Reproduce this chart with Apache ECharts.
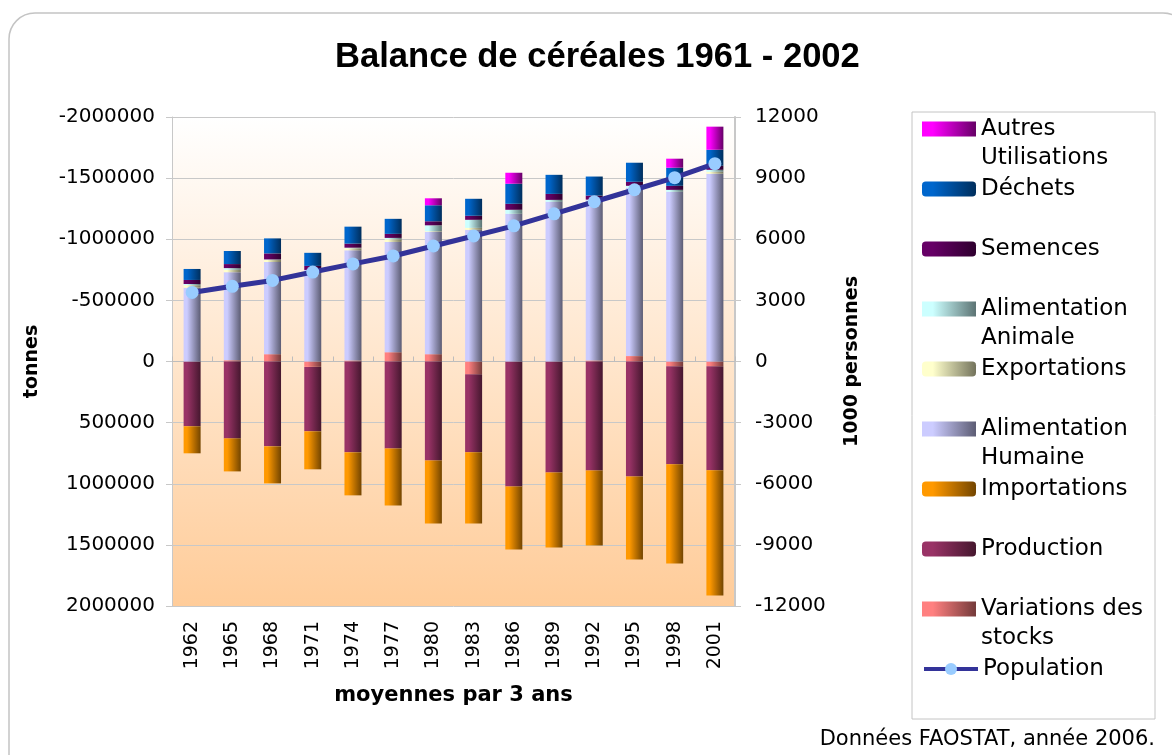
<!DOCTYPE html>
<html>
<head>
<meta charset="utf-8">
<script src="https://cdn.jsdelivr.net/npm/echarts@6/dist/echarts.min.js"></script>
<style>
html, body { margin: 0; padding: 0; background: #fff; }
#chart { width: 1172px; height: 755px; }
</style>
</head>
<body>
<div id="chart"></div>
<script>
// moyennes par 3 ans
const years = ['1962', '1965', '1968', '1971', '1974', '1977', '1980', '1983', '1986', '1989', '1992', '1995', '1998', '2001'];

// tonnes (ressources > 0, utilisations < 0)
const stocks      = [0, -10000, -60000, 44000, -8000, -76000, -60000, 104000, 0, 0, -8000, -44000, 38000, 38000];
const production  = [530000, 629000, 694000, 527000, 743000, 711000, 809000, 639000, 1022000, 907000, 891000, 940000, 803000, 852000];
const imports     = [221000, 270000, 303000, 311000, 352000, 467000, 516000, 582000, 516000, 615000, 615000, 680000, 811000, 1025000];
const foodHuman   = [-604000, -721000, -754000, -749000, -902000, -902000, -1000000, -1077000, -1208000, -1306000, -1311000, -1377000, -1388000, -1536000];
const exportsT    = [-20000, -19000, -16000, 0, -16000, -22000, -5000, -16000, 0, 0, 0, 0, 0, -16000];
const feedAnimal  = [-10000, -14000, -5000, 0, -5000, -11000, -49000, -66000, -33000, -16000, -5000, -16000, -16000, -16000];
const seeds       = [-33000, -33000, -49000, -33000, -33000, -33000, -33000, -33000, -49000, -49000, -33000, -33000, -33000, -33000];
const waste       = [-90000, -107000, -123000, -107000, -139000, -123000, -131000, -139000, -164000, -156000, -156000, -156000, -148000, -131000];
const otherUses   = [0, 0, 0, 0, 0, 0, -57000, 0, -90000, 0, 0, 0, -74000, -189000];

// 1000 personnes
const population  = [3390, 3690, 3980, 4390, 4790, 5180, 5670, 6160, 6660, 7250, 7840, 8430, 9020, 9710];

const leftTicks = [-2000000, 2000000, 500000];
const rightTicks = [-12000, 12000, 3000];

const FONT = '"DejaVu Sans", sans-serif';

function grad(light, dark) {
    return new echarts.graphic.LinearGradient(0, 0, 1, 0, [
        {offset: 0, color: light},
        {offset: 0.2, color: light},
        {offset: 1, color: dark}
    ]);
}

// ordre d'empilement (depuis zéro)
const barSeries = [
    {name: 'Variations des stocks', data: stocks, light: '#FF8080', dark: '#733A3A'},
    {name: 'Production', data: production, light: '#993366', dark: '#45172E'},
    {name: 'Importations', data: imports, light: '#FF9900', dark: '#734500'},
    {name: 'Alimentation Humaine', data: foodHuman, light: '#CCCCFF', dark: '#5C5C73'},
    {name: 'Exportations', data: exportsT, light: '#FFFFCC', dark: '#73735C'},
    {name: 'Alimentation Animale', data: feedAnimal, light: '#CCFFFF', dark: '#5C7373'},
    {name: 'Semences', data: seeds, light: '#660066', dark: '#2E002E'},
    {name: 'Déchets', data: waste, light: '#0066CC', dark: '#002E5C'},
    {name: 'Autres Utilisations', data: otherUses, light: '#FF00FF', dark: '#660066'}
];

const legendOrder = ['Autres Utilisations', 'Déchets', 'Semences', 'Alimentation Animale', 'Exportations',
    'Alimentation Humaine', 'Importations', 'Production', 'Variations des stocks', 'Population'];
const legendText = {
    'Autres Utilisations': 'Autres\nUtilisations',
    'Alimentation Animale': 'Alimentation\nAnimale',
    'Alimentation Humaine': 'Alimentation\nHumaine',
    'Variations des stocks': 'Variations des\nstocks'
};
// two-line items: swatch sits on the first line, the icon box spans both lines
const TALL_ICON = 'path://M0,0H54V15H0Z M54,44H54.01V44.01H54Z';

const legends = legendOrder.map((name, i) => {
    const twoLines = !!legendText[name];
    return {
        orient: 'vertical',
        left: 922,
        top: 129 + i * 60 - 14.5,
        padding: 0,
        itemWidth: 54,
        itemHeight: twoLines ? 44 : 15,
        selectedMode: false,
        data: [twoLines ? {name: name, icon: TALL_ICON} : name],
        formatter: n => legendText[n] || n,
        lineStyle: {width: 4},
        textStyle: {fontFamily: FONT, fontSize: 23, color: '#000', lineHeight: 29}
    };
});

const chart = echarts.init(document.getElementById('chart'));

chart.setOption({
    animation: false,
    backgroundColor: '#fff',
    title: {
        text: 'Balance de céréales 1961 - 2002',
        left: 335,
        top: 40,
        padding: 0,
        textStyle: {fontFamily: '"Liberation Sans", Arial, sans-serif', fontSize: 34.6, fontWeight: 'bold', color: '#000'}
    },
    legend: legends,
    graphic: [
        {type: 'rect', z: -10, shape: {x: 9, y: 13, width: 1180, height: 770, r: 26},
            style: {fill: 'transparent', stroke: '#C4C4C4', lineWidth: 1.5}},
        {type: 'rect', z: -10, shape: {x: 912, y: 112, width: 243, height: 607},
            style: {fill: 'transparent', stroke: '#C4C4C4', lineWidth: 1}},
        {type: 'text', right: 17, top: 729,
            style: {text: 'Données FAOSTAT, année 2006.', font: '21px ' + FONT, fill: '#000'}}
    ],
    grid: {
        left: 172, right: 437, top: 117, bottom: 149,
        show: true,
        borderWidth: 0,
        backgroundColor: new echarts.graphic.LinearGradient(0, 0, 0, 1, [
            {offset: 0, color: '#FFFFFF'},
            {offset: 1, color: '#FFCC99'}
        ])
    },
    xAxis: [
        {
            type: 'category',
            data: years,
            position: 'bottom',
            axisLine: {show: false, onZero: false},
            axisTick: {show: false},
            axisLabel: {rotate: 90, margin: 15, fontFamily: FONT, fontSize: 19, color: '#000'},
            name: 'moyennes par 3 ans',
            nameLocation: 'middle',
            nameGap: 79,
            nameTextStyle: {fontFamily: FONT, fontSize: 21, fontWeight: 'bold', color: '#000'}
        },
        {
            type: 'category',
            data: years,
            position: 'top',
            axisLine: {show: true, onZero: true, onZeroAxisIndex: 0, lineStyle: {color: '#BDBDBD', width: 1}},
            axisTick: {show: true, length: 5, lineStyle: {color: '#BDBDBD'}},
            axisLabel: {show: false}
        }
    ],
    yAxis: [
        {
            type: 'value',
            inverse: true,
            min: leftTicks[0], max: leftTicks[1], interval: leftTicks[2],
            axisLine: {show: true, lineStyle: {color: '#C8C8C8'}},
            axisTick: {show: true, length: 6, lineStyle: {color: '#C8C8C8'}},
            splitLine: {show: true, lineStyle: {color: '#C8C8C8', width: 1}},
            axisLabel: {margin: 17, fontFamily: FONT, fontSize: 20, color: '#000', formatter: v => String(v)},
            name: 'tonnes',
            nameLocation: 'middle',
            nameRotate: 90,
            nameGap: 130,
            nameTextStyle: {fontFamily: FONT, fontSize: 19, fontWeight: 'bold', color: '#000'}
        },
        {
            type: 'value',
            position: 'right',
            min: rightTicks[0], max: rightTicks[1], interval: rightTicks[2],
            axisLine: {show: true, lineStyle: {color: '#C8C8C8', width: 2}},
            axisTick: {show: true, length: 6, lineStyle: {color: '#C8C8C8'}},
            splitLine: {show: false},
            axisLabel: {margin: 20, fontFamily: FONT, fontSize: 20, color: '#000', formatter: v => String(v)},
            name: '1000 personnes',
            nameLocation: 'middle',
            nameRotate: 90,
            nameGap: 108,
            nameTextStyle: {fontFamily: FONT, fontSize: 19, fontWeight: 'bold', color: '#000'}
        }
    ],
    series: barSeries.map(s => ({
        name: s.name,
        type: 'bar',
        stack: 'bilan',
        xAxisIndex: 0,
        yAxisIndex: 0,
        barWidth: 17,
        data: s.data,
        itemStyle: {color: grad(s.light, s.dark)},
        emphasis: {disabled: true}
    })).concat([{
        name: 'Population',
        type: 'line',
        xAxisIndex: 0,
        yAxisIndex: 1,
        data: population,
        z: 10,
        symbol: 'circle',
        symbolSize: 13,
        lineStyle: {color: '#333399', width: 5},
        itemStyle: {color: '#99CCFF'},
        emphasis: {disabled: true}
    }])
});
</script>
</body>
</html>
